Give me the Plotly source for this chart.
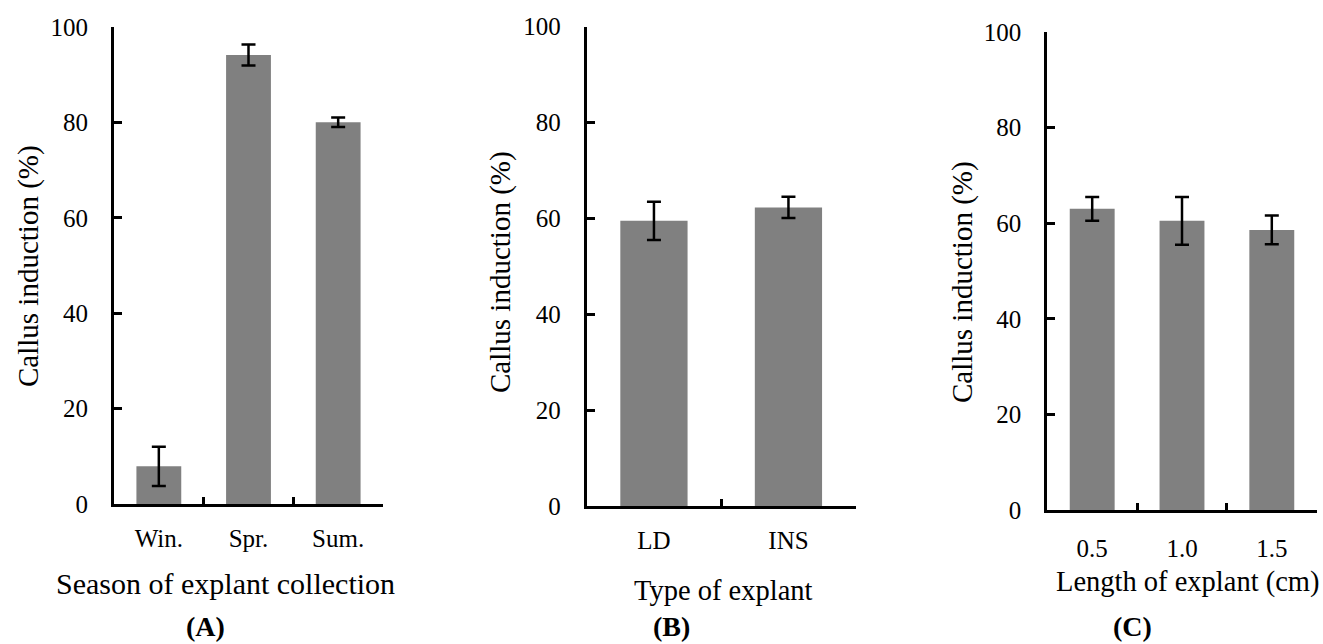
import plotly.graph_objects as go

# ---------------- data ----------------
season_cats = ["Win.", "Spr.", "Sum."]
season_vals = [7.9, 94.2, 80.1]
season_err = [4.1, 2.2, 1.0]

type_cats = ["LD", "INS"]
type_vals = [59.5, 62.3]
type_err = [4.0, 2.2]

length_cats = ["0.5", "1.0", "1.5"]
length_vals = [63.0, 60.5, 58.6]
length_err = [2.5, 5.0, 3.0]

y_ticks = [0, 20, 40, 60, 80, 100]
y_title = "Callus induction (%)"
x_titles = ["Season of explant collection", "Type of explant", "Length of explant (cm)"]
panel_letters = ["(A)", "(B)", "(C)"]

# ---------------- layout helpers ----------------
W, H = 1323, 644
FONT = "Liberation Serif, serif"
BAR_COLOR = "#808080"

def px_x(p):
    return p / W

def px_y(p):
    return 1 - p / H

# pixel boxes of each plot area: (left, right, top(100), bottom(0))
boxes = [(114, 383, 27.3, 504), (586.7, 855.7, 26.7, 506), (1047.3, 1316.7, 32, 510)]
x_label_standoff = [10, 10, 14]

fig = go.Figure()
series = [(season_cats, season_vals, season_err),
          (type_cats, type_vals, type_err),
          (length_cats, length_vals, length_err)]

for i, (cats, vals, errs) in enumerate(series):
    sfx = "" if i == 0 else str(i + 1)
    fig.add_trace(go.Bar(
        x=cats, y=vals,
        marker=dict(color=BAR_COLOR, line=dict(width=0)),
        error_y=dict(type="data", array=errs, visible=True,
                     color="black", thickness=2.5, width=7),
        xaxis="x" + sfx, yaxis="y" + sfx,
        showlegend=False,
    ))

layout_axes = {}
for i, (cats, _, _) in enumerate(series):
    sfx = "" if i == 0 else str(i + 1)
    l, r, t, b = boxes[i]
    layout_axes["xaxis" + sfx] = dict(
        domain=[px_x(l), px_x(r)],
        anchor="y" + sfx,
        type="category",
        range=[-0.5, len(cats) - 0.5],
        showline=True, linecolor="black", linewidth=3,
        ticks="inside", ticklen=7, tickwidth=2.5, tickcolor="black",
        tickson="boundaries",
        showgrid=False, zeroline=False,
        tickfont=dict(family=FONT, size=25, color="black"),
        ticklabelstandoff=x_label_standoff[i],
        automargin=False,
        fixedrange=True,
    )
    layout_axes["yaxis" + sfx] = dict(
        domain=[px_y(b), px_y(t)],
        anchor="x" + sfx,
        range=[0, 100],
        tickvals=y_ticks,
        showline=True, linecolor="black", linewidth=3,
        ticks="inside", ticklen=8, tickwidth=2.5, tickcolor="black",
        showgrid=False, zeroline=False,
        tickfont=dict(family=FONT, size=25, color="black"),
        ticklabelstandoff=18,
        automargin=False,
        fixedrange=True,
    )

annotations = []
# y-axis titles (center pixel positions)
y_title_pos = [(28, 266), (500, 272), (962, 282)]
for (x, y) in y_title_pos:
    annotations.append(dict(text=y_title, x=px_x(x), y=px_y(y), xref="paper", yref="paper",
                            xanchor="center", yanchor="middle", textangle=-90, showarrow=False,
                            font=dict(family=FONT, size=29, color="black")))
# x-axis titles
x_title_pos = [(225, 583, 30), (724, 590, 28.5), (1188, 582, 28.5)]
for txt, (x, y, fs) in zip(x_titles, x_title_pos):
    annotations.append(dict(text=txt, x=px_x(x), y=px_y(y), xref="paper", yref="paper",
                            xanchor="center", yanchor="middle", showarrow=False,
                            font=dict(family=FONT, size=fs, color="black")))
# panel letters
letter_pos = [(205, 626), (671, 626), (1132, 626)]
for txt, (x, y) in zip(panel_letters, letter_pos):
    annotations.append(dict(text="<b>" + txt + "</b>", x=px_x(x), y=px_y(y), xref="paper", yref="paper",
                            xanchor="center", yanchor="middle", showarrow=False,
                            font=dict(family=FONT, size=28, color="black")))

fig.update_layout(
    width=W, height=H,
    margin=dict(l=0, r=0, t=0, b=0, pad=0, autoexpand=False),
    paper_bgcolor="white", plot_bgcolor="white",
    bargap=0.5,
    annotations=annotations,
    **layout_axes,
)

fig.write_html(
    "out.html",
    config={"displayModeBar": False},
    post_script="document.body.style.margin='0px';document.body.style.overflow='hidden';",
)
